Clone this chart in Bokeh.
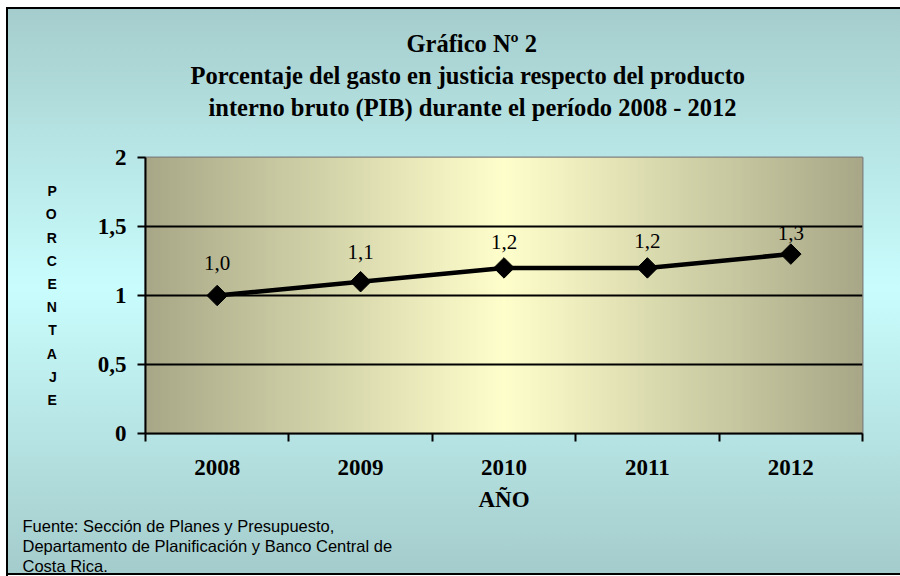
import numpy as np
from bokeh.plotting import figure
from bokeh.models import Range1d, FixedTicker, Title, ColumnDataSource
from bokeh.core.properties import value
from bokeh.embed import file_html
from bokeh.resources import INLINE

# ---- data ----
years = ["2008", "2009", "2010", "2011", "2012"]
pct = [1.0, 1.1, 1.2, 1.2, 1.3]
pct_labels = ["1,0", "1,1", "1,2", "1,2", "1,3"]
y_ticks = [0, 0.5, 1, 1.5, 2]
y_tick_labels = ["0", "0,5", "1", "1,5", "2"]
title_lines = ["Gráfico Nº 2",
               "Porcentaje del gasto en justicia respecto del producto",
               "interno bruto (PIB) durante el período 2008 - 2012"]
source_lines = ["Fuente: Sección de Planes y Presupuesto,",
                "Departamento de Planificación  y Banco Central de",
                "Costa Rica."]
x_title = "AÑO"
y_title = "PORCENTAJE"

# ---- style ----
label_dy = [-33, -30, -26, -27, -21]
title_offsets = [261, 45, 63]        # px from the frame's left edge
SERIF = "Liberation Serif"
SANS = "Liberation Sans"
W, H = 900, 576
FL, FR, FT, FB = 145, 862, 157, 433   # frame edges on the canvas

xs = [i + 0.5 for i in range(len(years))]

p = figure(width=W, height=H, output_backend="svg", toolbar_location=None,
           x_range=Range1d(0, len(years)), y_range=Range1d(0, 2),
           min_border_left=FL, min_border_right=W - FR,
           min_border_top=FT, min_border_bottom=H - FB)
p.title.visible = False
p.border_fill_alpha = 0
p.background_fill_alpha = 0
p.outline_line_color = "#808080"
p.outline_line_width = 2
p.styles = {
    "background-image": "linear-gradient(to bottom, #a4cbcb 0%, #c9fdfd 50%, #a4cbcb 100%)",
    "box-shadow": ("inset 6px 7px 0 0 #ffffff, inset 8px 9px 0 0 #000000, "
                   "inset 0 -1px 0 0 #ffffff, inset 0 -3px 0 0 #000000"),
}

# plot-area gradient (olive -> light yellow -> olive)
n = 256
u = np.linspace(0, 1, n)
t = np.abs(u - 0.5) * 2
light = np.array([255, 255, 204])
dark = np.array([168, 168, 136])
cols = (light[None, :] * (1 - t[:, None]) + dark[None, :] * t[:, None]).astype(np.uint32)
img = np.empty((2, n), dtype=np.uint32)
view = img.view(dtype=np.uint8).reshape((2, n, 4))
view[:, :, 0] = cols[:, 0]
view[:, :, 1] = cols[:, 1]
view[:, :, 2] = cols[:, 2]
view[:, :, 3] = 255
p.image_rgba(image=[img], x=0, y=0, dw=len(years), dh=2, level="image")

# grid
p.xgrid.visible = False
p.ygrid.ticker = FixedTicker(ticks=[0.5, 1, 1.5])
p.ygrid.grid_line_color = "black"
p.ygrid.grid_line_width = 2

# y axis
yax = p.yaxis[0]
yax.ticker = FixedTicker(ticks=y_ticks, minor_ticks=[])
yax.major_label_overrides = {t_: l for t_, l in zip(y_ticks, y_tick_labels)}
yax.major_label_text_font = SERIF
yax.major_label_text_font_style = "bold"
yax.major_label_text_font_size = "23px"
yax.major_label_text_color = "black"
yax.major_label_standoff = 11
yax.major_tick_out = 8
yax.major_tick_in = 0
yax.major_tick_line_width = 2
yax.major_tick_line_color = "black"
yax.axis_line_width = 2
yax.axis_line_color = "black"
yax.minor_tick_line_color = None
yax.axis_label = "\n".join(y_title)
yax.axis_label_orientation = "horizontal"
yax.axis_label_text_font = SANS
yax.axis_label_text_font_style = "bold"
yax.axis_label_text_font_size = "14px"
yax.axis_label_text_line_height = 1.45
yax.axis_label_text_color = "black"
yax.axis_label_standoff = 38

# x axis
xax = p.xaxis[0]
xax.ticker = FixedTicker(ticks=xs, minor_ticks=list(range(len(years) + 1)))
xax.major_label_overrides = {x_: y_ for x_, y_ in zip(xs, years)}
xax.major_tick_line_color = None
xax.major_tick_out = 0
xax.major_tick_in = 0
xax.minor_tick_out = 8
xax.minor_tick_in = 0
xax.minor_tick_line_width = 2
xax.minor_tick_line_color = "black"
xax.axis_line_width = 2
xax.axis_line_color = "black"
xax.major_label_text_font = SERIF
xax.major_label_text_font_style = "bold"
xax.major_label_text_font_size = "23px"
xax.major_label_text_color = "black"
xax.major_label_standoff = 18
xax.axis_label = x_title
xax.axis_label_text_font = SERIF
xax.axis_label_text_font_style = "bold"
xax.axis_label_text_font_size = "23px"
xax.axis_label_text_color = "black"
xax.axis_label_standoff = 9

# series
src = ColumnDataSource(dict(x=xs, y=pct, lab=pct_labels, dy=label_dy))
p.line("x", "y", source=src, line_width=4.5, line_color="black")
p.scatter("x", "y", source=src, marker="square", angle=np.pi / 4, size=14.5,
          fill_color="black", line_color="black")
p.text("x", "y", text="lab", source=src, y_offset="dy",
       text_align="center", text_baseline="middle",
       text_font=value(SERIF), text_font_size="21px", text_color="black")

# title: spacer nearest the frame, then the three lines (first added = nearest)
p.add_layout(Title(text=" ", text_font_size="1px", standoff=32), "above")
for line, off in reversed(list(zip(title_lines, title_offsets))):
    p.add_layout(Title(text=line, align="left", offset=off, standoff=3,
                       text_font=SERIF, text_font_style="bold", text_font_size="24.5px",
                       text_color="black"), "above")

# source note, stacked below the x axis
for line in source_lines:
    p.add_layout(Title(text=line, align="left", offset=22 - FL, standoff=0,
                       text_font=SANS, text_font_style="normal", text_font_size="16.5px",
                       text_color="black"), "below")

open("out.html", "w").write(file_html(p, INLINE))
